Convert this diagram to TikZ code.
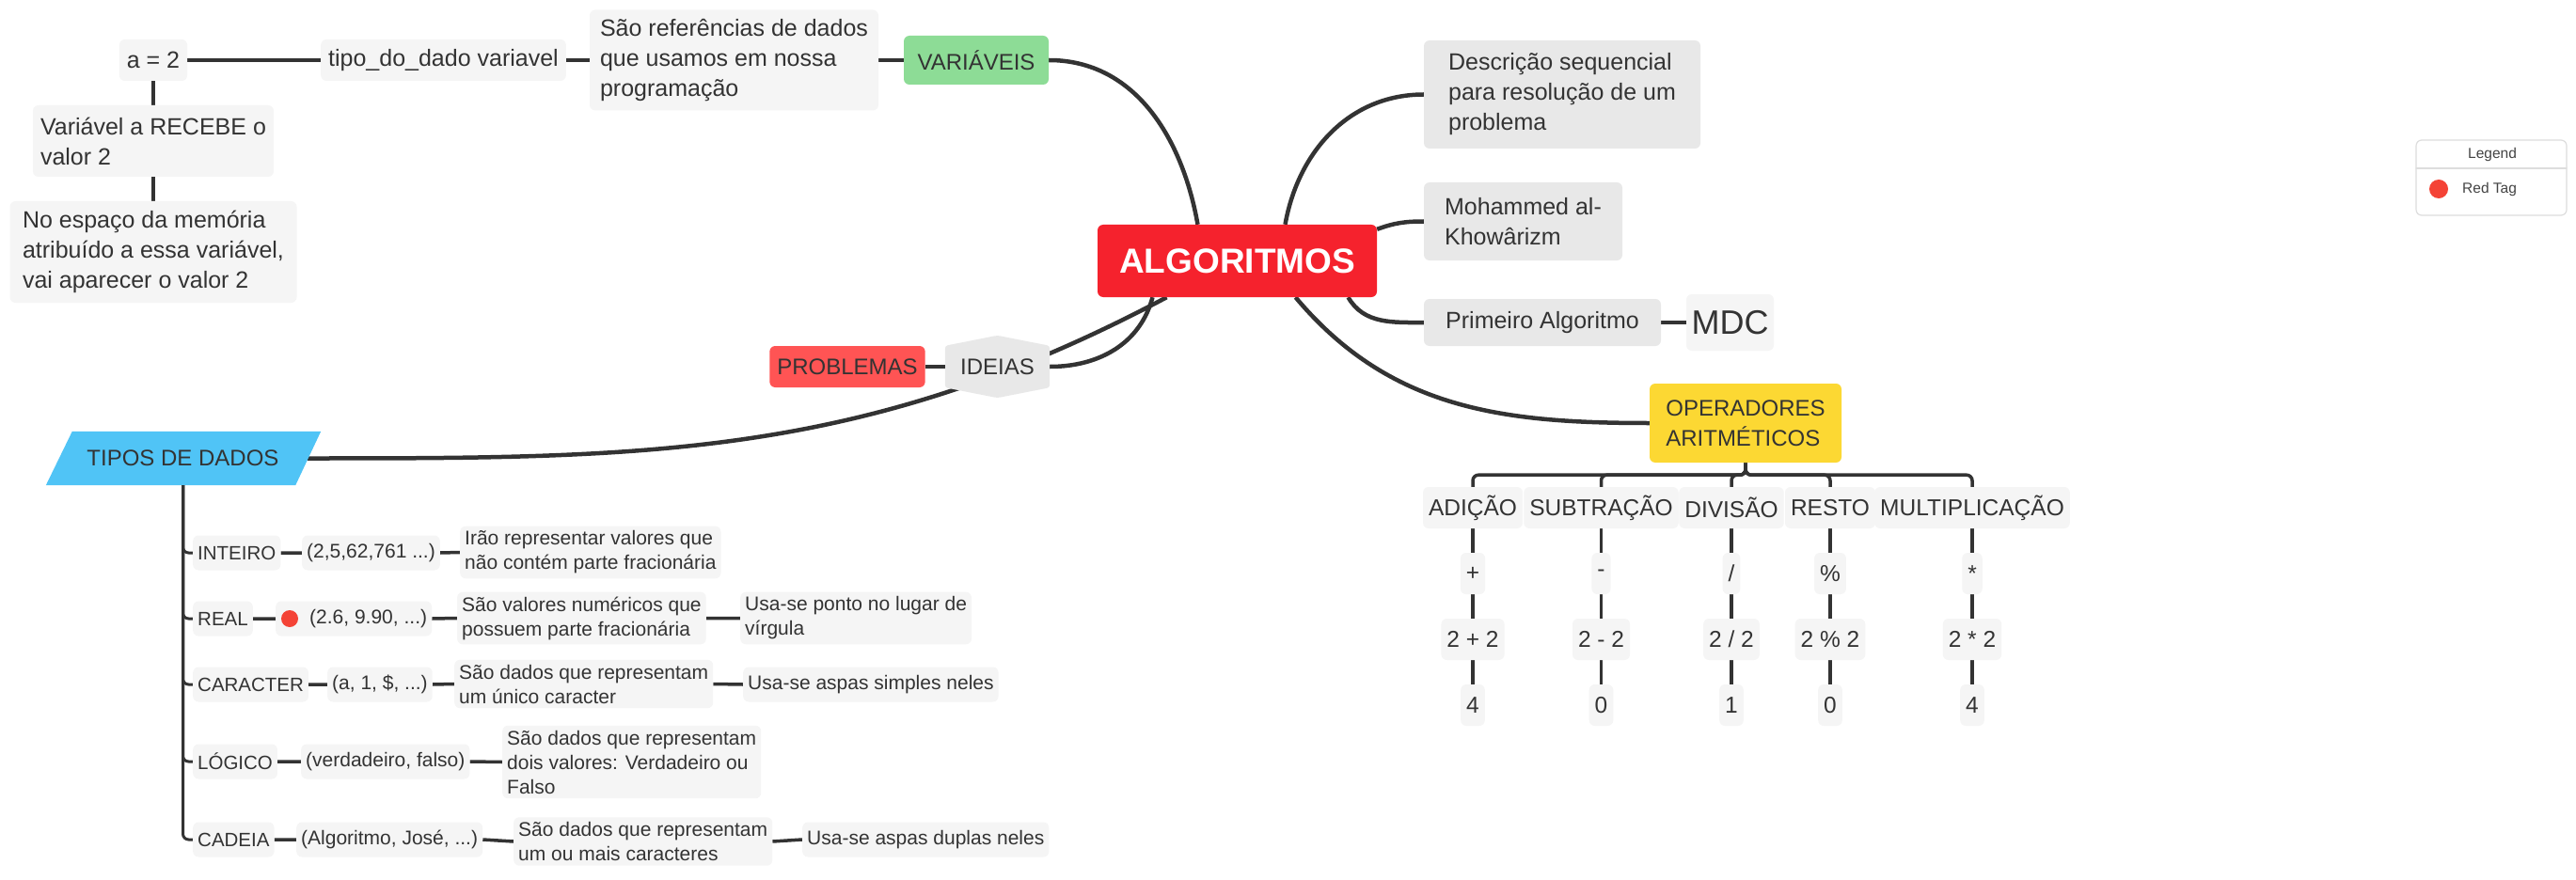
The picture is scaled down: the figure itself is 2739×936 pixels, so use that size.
\documentclass[tikz,border=0pt]{standalone}
\usepackage{fontspec}
\setmainfont{Liberation Sans}
\usetikzlibrary{backgrounds}
\definecolor{linegray}{HTML}{333333}
\definecolor{textdark}{HTML}{333333}
\definecolor{boxlight}{HTML}{F5F5F5}
\definecolor{boxgray}{HTML}{E8E8E8}
\definecolor{algred}{HTML}{F5222D}
\definecolor{vargreen}{HTML}{8DDC96}
\definecolor{probred}{HTML}{FF5454}
\definecolor{operyellow}{HTML}{FCD833}
\definecolor{tiposblue}{HTML}{50C4F6}
\definecolor{tagred}{HTML}{F44336}
\definecolor{legendgray}{HTML}{DDDDDD}
\definecolor{legendtext}{HTML}{444444}
\begin{document}
\begin{tikzpicture}[x=1pt, y=-1pt, line cap=round, line join=round, text=textdark]
			\tikzset{branch/.style={draw=linegray, line width=4.5pt},
				twig/.style={draw=linegray, line width=3.5pt},
				box/.style={fill=boxlight, rounded corners=6pt, inner xsep=8pt, inner ysep=7pt, align=left, font=\fontsize{25}{32}\selectfont},
				topic/.style={box, fill=boxgray},
				capsbox/.style={box, align=center, font=\fontsize{24}{32}\selectfont},
				small/.style={box, inner xsep=5pt, inner ysep=5pt, minimum height=37pt, font=\fontsize{21}{26}\selectfont},
				smallcaps/.style={small, font=\fontsize{20.5}{26}\selectfont},
				opbox/.style={box, align=center, inner xsep=6pt, minimum height=44pt, font=\fontsize{24.5}{30}\selectfont}}
			\useasboundingbox (0,0) rectangle (2739,936);
			% central topic
			\node[fill=algred, rounded corners=6pt, minimum width=297pt, minimum height=77pt, text=white, font=\fontsize{37}{40}\selectfont\bfseries] (alg) at (1315.5,277.5) {ALGORITMOS};
			% variaveis
			\node[capsbox, fill=vargreen, minimum width=154pt, minimum height=52pt] (var) at (1038,64) {VARIÁVEIS};
			\node[box, minimum width=307pt, minimum height=107pt] (refs) at (780.5,64) {São referências de dados\\que usamos em nossa\\programação};
			\node[box, minimum width=257pt, minimum height=44pt] (tipo) at (471.5,64) {tipo\_do\_dado variavel};
			\node[box, minimum width=70pt, minimum height=44pt] (a2) at (163,64) {a = 2};
			\node[box, minimum width=250pt, minimum height=76pt] (receb) at (163,150) {Variável a RECEBE o\\valor 2};
			\node[box, minimum width=305pt, minimum height=108pt] (noesp) at (163,268) {No espaço da memória\\atribuído a essa variável,\\vai aparecer o valor 2};
			% right side
			\node[topic, minimum width=294pt, minimum height=115pt] (desc) at (1661,100.5) {Descrição sequencial\\para resolução de um\\problema};
			\node[topic, minimum width=211pt, minimum height=83pt] (moh) at (1619.5,235.5) {Mohammed al-\\Khowârizm};
			\node[topic, minimum width=252pt, minimum height=50pt] (prim) at (1640,343) {Primeiro Algoritmo};
			\node[box, minimum width=93pt, minimum height=60pt, inner xsep=4pt, font=\fontsize{36}{40}\selectfont] (mdc) at (1839.5,343) {MDC};
			% ideias
			\node[capsbox, fill=none, minimum width=111pt, minimum height=44pt] (ideias) at (1060.5,390) {IDEIAS};
			\node[capsbox, fill=probred, minimum width=156pt, minimum height=44pt] (probl) at (901,390) {PROBLEMAS};
			% operadores
			\node[capsbox, fill=operyellow, align=left, minimum width=204pt, minimum height=84pt] (oper) at (1856,450) {OPERADORES\\ARITMÉTICOS};
			\node[opbox] (add) at (1566,540) {ADIÇÃO};
			\node[opbox] (sub) at (1702.5,540) {SUBTRAÇÃO};
			\node[opbox] (div) at (1841,540) {DIVISÃO};
			\node[opbox] (rest) at (1946,540) {RESTO};
			\node[opbox] (mult) at (2097,540) {MULTIPLICAÇÃO};
			\node[opbox] (addop) at (1566,610) {+};
			\node[opbox] (subop) at (1702.5,610) {-};
			\node[opbox] (divop) at (1841,610) {/};
			\node[opbox] (restop) at (1946,610) {\%};
			\node[opbox] (multop) at (2097,610) {*};
			\node[opbox] (addex) at (1566,680) {2 + 2};
			\node[opbox] (subex) at (1702.5,680) {2 - 2};
			\node[opbox] (divex) at (1841,680) {2 / 2};
			\node[opbox] (restex) at (1946,680) {2 \% 2};
			\node[opbox] (multex) at (2097,680) {2 * 2};
			\node[opbox] (addres) at (1566,750) {4};
			\node[opbox] (subres) at (1702.5,750) {0};
			\node[opbox] (divres) at (1841,750) {1};
			\node[opbox] (restres) at (1946,750) {0};
			\node[opbox] (multres) at (2097,750) {4};
			% tipos de dados
			\node[capsbox, fill=none, minimum width=265pt, minimum height=57pt] (tipos) at (194.5,487.5) {TIPOS DE DADOS};
			\node[smallcaps, anchor=west] (inteiro) at (205,588) {INTEIRO};
			\node[small, anchor=west] (intex) at (321,588) {(2,5,62,761 ...)};
			\node[small, anchor=west] (intdesc) at (489,587.5) {Irão representar valores que\\não contém parte fracionária};
			\node[smallcaps, anchor=west] (real) at (205,658) {REAL};
			\node[small, anchor=west] (realex) at (293,658) {\hspace{31pt}(2.6, 9.90, ...)};
			\node[small, anchor=west] (realdesc) at (486,657.5) {São valores numéricos que\\possuem parte fracionária};
			\node[small, anchor=west] (realnote) at (787,657.5) {Usa-se ponto no lugar de\\vírgula};
			\node[smallcaps, anchor=west] (caract) at (205,728) {CARACTER};
			\node[small, anchor=west] (caractex) at (348,728) {(a, 1, \$, ...)};
			\node[small, anchor=west] (caractdesc) at (483,727.5) {São dados que representam\\um único caracter};
			\node[small, anchor=west] (caractnote) at (790,728) {Usa-se aspas simples neles};
			\node[smallcaps, anchor=west] (logico) at (205,810) {LÓGICO};
			\node[small, anchor=west] (logicoex) at (320,810) {(verdadeiro, falso)};
			\node[small, anchor=west] (logicodesc) at (534,810.5) {São dados que representam\\dois valores: Verdadeiro ou\\Falso};
			\node[smallcaps, anchor=west] (cadeia) at (205,893) {CADEIA};
			\node[small, anchor=west] (cadeiaex) at (315,893) {(Algoritmo, José, ...)};
			\node[small, anchor=west] (cadeiadesc) at (546,895) {São dados que representam\\um ou mais caracteres};
			\node[small, anchor=west] (cadeianote) at (853,893) {Usa-se aspas duplas neles};
			\fill[tagred] ([xshift=15pt]realex.west) circle (9pt);
			% legend
			\draw[legendgray, line width=1.2pt, rounded corners=6pt, fill=white] (2569,149) rectangle (2729,229);
			\draw[legendgray, line width=1.2pt] (2569,179) -- (2729,179);
			\node[font=\fontsize{15.5}{18}\selectfont, text=legendtext] (legend) at (2650,164) {Legend};
			\fill[tagred] (2593,201) circle (10pt);
			\node[anchor=west, inner sep=0pt, font=\fontsize{15.5}{18}\selectfont, text=legendtext] (redtag) at (2618,201) {Red Tag};
			% connectors
			\begin{pgfonlayer}{background}
				\fill[white] (0,0) rectangle (2739,936);
				\draw[branch] ([xshift=-42pt]alg.north) to[out=100,in=0] (var.east);
				\draw[branch] ([xshift=51pt]alg.north) to[out=80,in=180] (desc.west);
				\draw[branch] ([yshift=-5pt]alg.north east) to[out=20,in=180] (moh.west);
				\draw[branch] ([xshift=118pt]alg.south) to[out=-60,in=180] (prim.west);
				\draw[branch] ([xshift=62pt]alg.south) to[out=-50,in=180] (oper.west);
				\draw[branch] ([xshift=-90pt]alg.south) to[out=-105,in=0] (ideias.east);
				\draw[branch] ([xshift=-75pt]alg.south) to[out=-152,in=0] (tipos.east);
				\fill[boxgray, rounded corners=3pt] (ideias.north west) -- ([yshift=11pt]ideias.north) -- (ideias.north east) -- (ideias.south east) -- ([yshift=-11pt]ideias.south) -- (ideias.south west) -- cycle;
				\fill[tiposblue] ([xshift=-13pt]tipos.south west) -- ([xshift=15pt]tipos.north west) -- ([xshift=14pt]tipos.north east) -- ([xshift=-13pt]tipos.south east) -- cycle;
				\draw[twig] (a2.east) -- (tipo.west) (tipo.east) -- (refs.west) (refs.east) -- (var.west);
				\draw[twig] (a2.south) -- (receb.north) (receb.south) -- (noesp.north);
				\draw[twig] (prim.east) -- (mdc.west);
				\draw[twig] (probl.east) -- (ideias.west);
				\draw[twig, rounded corners=6pt] (oper.south) -- ++(0,13) -| (add.north);
				\draw[twig, rounded corners=6pt] (oper.south) -- ++(0,13) -| (sub.north);
				\draw[twig, rounded corners=6pt] (oper.south) -- ++(0,13) -| (div.north);
				\draw[twig, rounded corners=6pt] (oper.south) -- ++(0,13) -| (rest.north);
				\draw[twig, rounded corners=6pt] (oper.south) -- ++(0,13) -| (mult.north);
				\draw[twig] (add) -- (addop) (addop) -- (addex) (addex) -- (addres);
				\draw[twig] (sub) -- (subop) (subop) -- (subex) (subex) -- (subres);
				\draw[twig] (div) -- (divop) (divop) -- (divex) (divex) -- (divres);
				\draw[twig] (rest) -- (restop) (restop) -- (restex) (restex) -- (restres);
				\draw[twig] (mult) -- (multop) (multop) -- (multex) (multex) -- (multres);
				\draw[twig, line width=3pt, rounded corners=6pt] (tipos.south) |- (inteiro.west);
				\draw[twig, line width=3pt, rounded corners=6pt] (tipos.south) |- (real.west);
				\draw[twig, line width=3pt, rounded corners=6pt] (tipos.south) |- (caract.west);
				\draw[twig, line width=3pt, rounded corners=6pt] (tipos.south) |- (logico.west);
				\draw[twig, line width=3pt, rounded corners=6pt] (tipos.south) |- (cadeia.west);
				\draw[twig] (inteiro.east) -- (intex.west) (intex.east) -- (intdesc.west);
				\draw[twig] (real.east) -- (realex.west) (realex.east) -- (realdesc.west) (realdesc.east) -- (realnote.west);
				\draw[twig] (caract.east) -- (caractex.west) (caractex.east) -- (caractdesc.west) (caractdesc.east) -- (caractnote.west);
				\draw[twig] (logico.east) -- (logicoex.west) (logicoex.east) -- (logicodesc.west);
				\draw[twig] (cadeia.east) -- (cadeiaex.west) (cadeiaex.east) -- (cadeiadesc.west) (cadeiadesc.east) -- (cadeianote.west);
			\end{pgfonlayer}
		\end{tikzpicture}
\end{document}
